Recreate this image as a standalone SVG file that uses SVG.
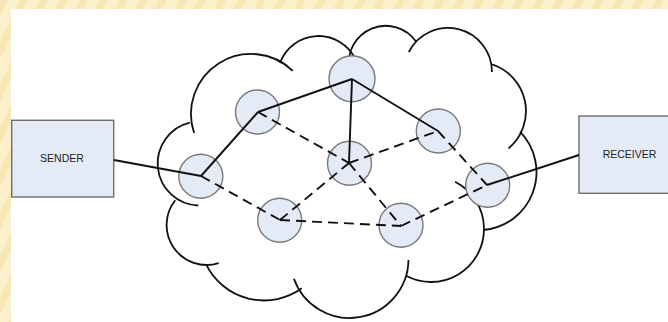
<svg xmlns="http://www.w3.org/2000/svg" width="668" height="322" viewBox="0 0 668 322">
  <defs>
    <pattern id="stripes" width="18" height="18" patternUnits="userSpaceOnUse" patternTransform="rotate(25)">
      <rect width="18" height="18" fill="#FCEFCB"/>
      <rect width="7" height="18" fill="#F8E6B3"/>
    </pattern>
    <style>
      .cloud { fill: none; stroke: #111; stroke-width: 1.8; stroke-linecap: butt; }
      .node circle { fill: #E4EBF6; stroke: #7A7A7A; stroke-width: 1.4; }
      .box rect { fill: #E4EBF6; stroke: #6E6E6E; stroke-width: 1.4; }
      .box text { font-family: "Liberation Sans", Arial, sans-serif; font-size: 10.5px; fill: #222; text-anchor: middle; }
      .solid { fill: none; stroke: #111; stroke-width: 1.9; }
      .dashed { fill: none; stroke: #111; stroke-width: 1.9; stroke-dasharray: 10 6; }
    </style>
  </defs>

  <!-- background frame -->
  <rect x="0" y="0" width="668" height="322" fill="url(#stripes)"/>
  <rect x="11" y="9" width="657" height="313" fill="#FFFFFF"/>

  <!-- cloud outline -->
  <g id="cloud">
    <path class="cloud" d="M194.1 133 A60 60 0 0 1 292.7 70.8"/>
    <path class="cloud" d="M280 63 A41 41 0 0 1 355.7 59.7"/>
    <path class="cloud" d="M349.3 69.2 A37 37 0 0 1 416.2 41.8"/>
    <path class="cloud" d="M408.8 52 A44 44 0 0 1 492 72"/>
    <path class="cloud" d="M490.8 64 A49 49 0 0 1 508.5 148.5"/>
    <path class="cloud" d="M520 131.7 A58 58 0 0 1 483.3 230"/>
    <path class="cloud" d="M455.1 181.8 A53 53 0 0 1 484 229 A53 53 0 0 1 406.1 275.8"/>
    <path class="cloud" d="M293.9 278.7 A59 59 0 0 0 408.5 260"/>
    <path class="cloud" d="M206.1 264.4 A64.5 64.5 0 0 0 301.7 288.3"/>
    <path class="cloud" d="M175.2 200.2 A40 40 0 0 0 218.7 263.1"/>
    <path class="cloud" d="M189.8 122.7 A42 42 0 0 0 198.2 205.5"/>
  </g>

  <!-- end boxes -->
  <g id="sender" class="box">
    <rect x="11.7" y="120.3" width="102" height="76.7"/>
    <text x="62" y="161.5">SENDER</text>
  </g>
  <g id="receiver" class="box">
    <rect x="579" y="116" width="100" height="77.3"/>
    <text x="629.5" y="158.3">RECEIVER</text>
  </g>

  <!-- router nodes -->
  <g id="node-L" class="node"><circle cx="200.8" cy="176.3" r="22"/></g>
  <g id="node-A" class="node"><circle cx="257.5" cy="112" r="22"/></g>
  <g id="node-T" class="node"><circle cx="352" cy="78.7" r="23"/></g>
  <g id="node-M" class="node"><circle cx="349.5" cy="163.3" r="22"/></g>
  <g id="node-R1" class="node"><circle cx="438.3" cy="131" r="22"/></g>
  <g id="node-R2" class="node"><circle cx="487.7" cy="185.3" r="22"/></g>
  <g id="node-B1" class="node"><circle cx="279.7" cy="220.3" r="22"/></g>
  <g id="node-B2" class="node"><circle cx="401" cy="225.3" r="22"/></g>

  <!-- connectors -->
  <g id="connectors">
    <path class="solid" d="M114 160 L201 176"/>
    <path class="solid" d="M201 176 L258 112"/>
    <path class="solid" d="M258 112 L352 79"/>
    <path class="solid" d="M352 79 L349 163"/>
    <path class="solid" d="M352 79 L438 131"/>
    <path class="solid" d="M487 185 L579 155"/>

    <path class="dashed" d="M258 112 L349 163"/>
    <path class="dashed" d="M201 176 L280 220"/>
    <path class="dashed" d="M280 220 L349 163"/>
    <path class="dashed" d="M349 163 L438 131"/>
    <path class="dashed" d="M349 163 L401 226"/>
    <path class="dashed" d="M280 220 L401 226"/>
    <path class="dashed" d="M438 131 L487 185"/>
    <path class="dashed" d="M401 226 L487 185"/>
  </g>
</svg>
